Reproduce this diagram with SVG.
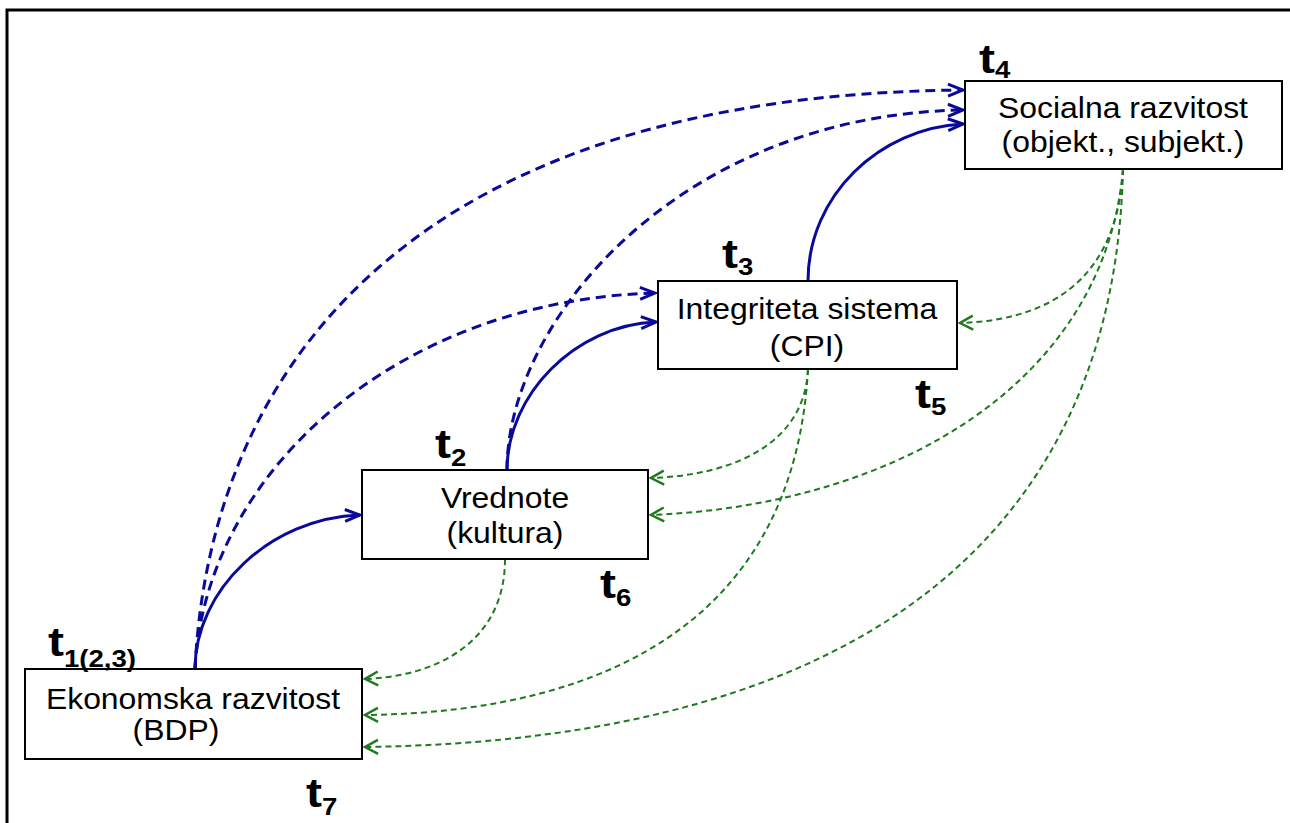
<svg xmlns="http://www.w3.org/2000/svg" width="1290" height="823" viewBox="0 0 1290 823">
<style>
.box{fill:#fff;stroke:#000;stroke-width:2}
.lbl{font-family:"Liberation Sans",Arial,sans-serif;font-size:29px;fill:#000;text-anchor:middle}
.t{font-family:"Liberation Sans",Arial,sans-serif;font-size:40px;font-weight:bold;fill:#000}
.sub{font-size:23px}
.bs{fill:none;stroke:#0a0a9a;stroke-width:3;marker-end:url(#ab)}
.bd{fill:none;stroke:#0a0a9a;stroke-width:3;stroke-dasharray:10 6;marker-end:url(#ab)}
.gd{fill:none;stroke:#1f7a1f;stroke-width:2;stroke-dasharray:6 4;marker-end:url(#ag)}
</style>
<defs>
<marker id="ab" markerUnits="userSpaceOnUse" markerWidth="20" markerHeight="20" viewBox="0 0 20 20" refX="18" refY="10" orient="auto"><path d="M3,4 L18,10 L3,16" fill="none" stroke="#0a0a9a" stroke-width="3"/></marker>
<marker id="ag" markerUnits="userSpaceOnUse" markerWidth="20" markerHeight="20" viewBox="0 0 20 20" refX="17" refY="10" orient="auto"><path d="M4,3 L17,10 L4,17" fill="none" stroke="#1f7a1f" stroke-width="2.5"/></marker>
</defs>
<rect width="1290" height="823" fill="#fff"/>
<path d="M7,823 V10 H1290" fill="none" stroke="#000" stroke-width="3"/>
<g id="connectors">
<path class="bd" d="M195,669 C210,360 420,95 963,90"/>
<path class="bd" d="M507,470 C507,320 680,115 963,110"/>
<path class="bd" d="M195,669 C205,470 400,300 655,293"/>
<path class="bs" d="M195,669 C195,590 270,518 360,515"/>
<path class="bs" d="M507,470 C507,395 575,325 656,322"/>
<path class="bs" d="M808,281 C808,195 880,128 963,124"/>
<path class="gd" d="M1123,169 C1118,270 1060,320 960,323"/>
<path class="gd" d="M1123,169 C1105,380 900,505 651,515"/>
<path class="gd" d="M1123,169 C1115,520 880,740 365,747"/>
<path class="gd" d="M808,369 C805,440 740,475 651,478"/>
<path class="gd" d="M808,369 C795,610 620,712 365,715"/>
<path class="gd" d="M505,559 C505,640 440,676 365,679"/>
</g>
<g id="socialna">
<rect class="box" x="965" y="81" width="317" height="88"/>
<text class="lbl" transform="translate(1123,118) scale(1.1,1)">Socialna razvitost</text>
<text class="lbl" transform="translate(1123,152) scale(1.1,1)">(objekt., subjekt.)</text>
</g>
<g id="integriteta">
<rect class="box" x="658" y="281" width="299" height="88"/>
<text class="lbl" transform="translate(807,319) scale(1.1,1)">Integriteta sistema</text>
<text class="lbl" transform="translate(807,356) scale(1.1,1)">(CPI)</text>
</g>
<g id="vrednote">
<rect class="box" x="362" y="470" width="286" height="89"/>
<text class="lbl" transform="translate(505,508) scale(1.1,1)">Vrednote</text>
<text class="lbl" transform="translate(505,543) scale(1.1,1)">(kultura)</text>
</g>
<g id="ekonomska">
<rect class="box" x="25" y="669" width="337" height="90"/>
<text class="lbl" transform="translate(193,709) scale(1.1,1)">Ekonomska razvitost</text>
<text class="lbl" transform="translate(176,740) scale(1.1,1)">(BDP)</text>
</g>
<g id="time-labels">
<text class="t" transform="translate(979,73) scale(1.2,1)">t<tspan class="sub" dy="5">4</tspan></text>
<text class="t" transform="translate(722,268) scale(1.2,1)">t<tspan class="sub" dy="7">3</tspan></text>
<text class="t" transform="translate(915,408) scale(1.2,1)">t<tspan class="sub" dy="7">5</tspan></text>
<text class="t" transform="translate(435,458) scale(1.2,1)">t<tspan class="sub" dy="8">2</tspan></text>
<text class="t" transform="translate(600,598) scale(1.2,1)">t<tspan class="sub" dy="8">6</tspan></text>
<text class="t" transform="translate(48,656) scale(1.2,1)">t<tspan class="sub" dy="11">1(2,3)</tspan></text>
<text class="t" transform="translate(306,807) scale(1.2,1)">t<tspan class="sub" dy="8">7</tspan></text>
</g>
</svg>
